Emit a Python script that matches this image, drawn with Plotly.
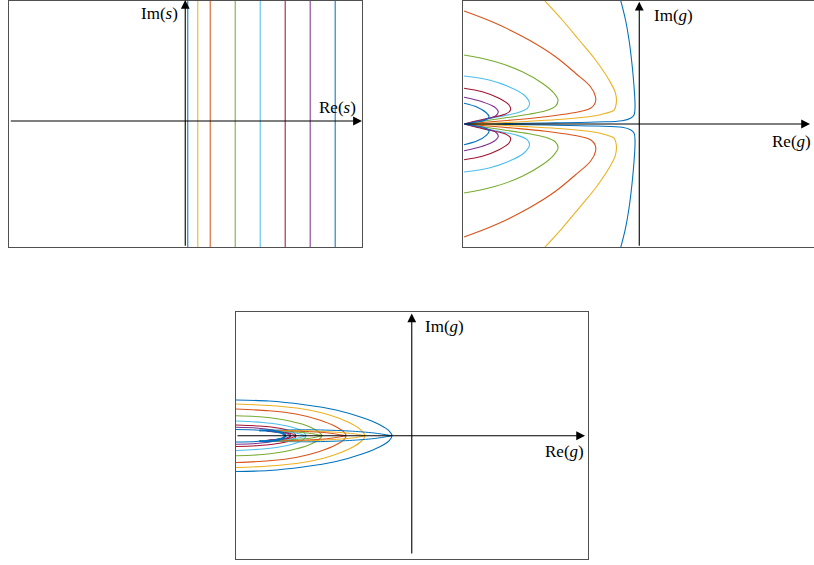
import plotly.graph_objects as go

# s-plane: real parts of the vertical lines
sigma = [0.1, 0.5, 1, 2, 3, 4, 5, 6]
colors = ["#0072BD", "#EDB120", "#D95319", "#77AC30", "#4DBEEE", "#A2142F", "#7E2F8E", "#0072BD"]

# g-plane (top right): upper half of each image curve
tr_x = [
    [-0.75, -0.55, -0.41, -0.28, -0.21, -0.17, -0.21, -0.35, -0.68, -1.75, -3.75, -5.75, -7.0],
    [-3.81, -3.08, -2.41, -1.75, -1.21, -0.95, -0.92, -1.01, -1.35, -1.75, -3.08, -4.41, -5.75, -7.0],
    [-7.01, -5.75, -4.41, -3.35, -2.55, -1.95, -1.75, -1.77, -1.95, -2.41, -3.75, -5.08, -6.41, -7.0],
    [-7.01, -5.75, -4.68, -3.88, -3.41, -3.25, -3.35, -3.75, -4.41, -5.75, -7.0],
    [-7.01, -6.01, -5.21, -4.61, -4.39, -4.48, -4.95, -5.75, -6.55, -7.0],
    [-7.01, -6.28, -5.61, -5.21, -5.15, -5.35, -5.88, -6.55, -7.0],
    [-7.01, -6.28, -5.81, -5.64, -5.75, -6.15, -6.68, -7.0],
    [-7.01, -6.48, -6.12, -6.01, -6.15, -6.55, -7.0],
]
tr_y = [
    [4.96, 4.16, 3.36, 2.29, 1.49, 0.69, 0.36, 0.23, 0.13, 0.08, 0.04, 0.013, 0.0],
    [4.96, 4.16, 3.36, 2.56, 1.76, 1.23, 0.83, 0.56, 0.43, 0.33, 0.19, 0.11, 0.04, 0.0],
    [4.52, 4.03, 3.36, 2.69, 2.03, 1.49, 1.09, 0.83, 0.63, 0.49, 0.29, 0.16, 0.05, 0.0],
    [2.76, 2.49, 2.09, 1.63, 1.23, 0.96, 0.72, 0.53, 0.39, 0.19, 0.0],
    [1.92, 1.76, 1.49, 1.16, 0.83, 0.63, 0.43, 0.27, 0.09, 0.0],
    [1.43, 1.29, 1.03, 0.76, 0.56, 0.40, 0.27, 0.12, 0.0],
    [1.07, 0.89, 0.69, 0.49, 0.32, 0.19, 0.07, 0.0],
    [0.83, 0.67, 0.45, 0.29, 0.16, 0.07, 0.0],
]

# g-plane (bottom): upper half of each outer loop, left edge -> vertex on the real axis
bt_x = [
    [-7.03, -5.71, -4.36, -3.03, -1.96, -1.30, -0.90, -0.79],
    [-7.03, -5.71, -4.36, -3.29, -2.49, -2.03, -1.87],
    [-7.03, -5.71, -4.63, -3.69, -3.03, -2.69, -2.63],
    [-7.03, -5.96, -4.89, -4.09, -3.69, -3.59],
    [-7.03, -5.96, -5.03, -4.43, -4.23],
    [-7.03, -6.09, -5.29, -4.76, -4.63],
    [-7.03, -6.23, -5.43, -4.96, -4.83],
    [-7.03, -6.23, -5.56, -5.16, -5.03],
]
bt_y = [
    [1.43, 1.39, 1.25, 1.03, 0.72, 0.45, 0.19, 0.0],
    [1.27, 1.21, 1.07, 0.83, 0.52, 0.23, 0.0],
    [1.07, 1.0, 0.87, 0.63, 0.36, 0.13, 0.0],
    [0.8, 0.75, 0.59, 0.36, 0.13, 0.0],
    [0.59, 0.53, 0.4, 0.21, 0.0],
    [0.43, 0.39, 0.3, 0.16, 0.0],
    [0.34, 0.31, 0.21, 0.11, 0.0],
    [0.25, 0.23, 0.16, 0.08, 0.0],
]
# inner branch of each bottom loop: from the curl near (-5.6, 0) out to its vertex
bt_in_x = [
    [-5.6, -4.0, -2.5, -1.5, -0.79],
    [-5.6, -4.2, -3.0, -2.3, -1.87],
    [-5.6, -4.5, -3.4, -2.63],
    [-5.6, -4.7, -4.0, -3.59],
    [-5.6, -5.0, -4.5, -4.23],
    [-5.7, -5.2, -4.8, -4.63],
    [-5.8, -5.3, -5.0, -4.83],
    [-6.1, -5.6, -5.2, -5.03],
]
bt_in_y = [
    [0.22, 0.24, 0.19, 0.11, 0.0],
    [0.21, 0.2, 0.14, 0.08, 0.0],
    [0.2, 0.18, 0.12, 0.0],
    [0.18, 0.15, 0.09, 0.0],
    [0.17, 0.14, 0.08, 0.0],
    [0.17, 0.14, 0.08, 0.0],
    [0.18, 0.15, 0.08, 0.0],
    [0.21, 0.21, 0.12, 0.0],
]

W, H = 814, 565
fig = go.Figure()


def halves(xs, ys):
    # upper half and its complex conjugate
    return [(xs, ys), (xs, [-v for v in ys])]


# top left: vertical lines
for s, c in zip(sigma, colors):
    fig.add_trace(go.Scatter(x=[s, s], y=[-5.05, 4.8], mode="lines", line=dict(color=c, width=1.2),
                             opacity=0.85, xaxis="x", yaxis="y", showlegend=False, hoverinfo="skip"))

for xs, ys, c in zip(tr_x, tr_y, colors):
    for hx, hy in halves(xs, ys):
        fig.add_trace(go.Scatter(x=hx, y=hy, mode="lines", line=dict(color=c, width=1.1, shape="spline", smoothing=1.0),
                                 xaxis="x2", yaxis="y2", showlegend=False, hoverinfo="skip"))

for xs, ys, c in zip(bt_x, bt_y, colors):
    fx = xs + xs[::-1][1:]
    fy = ys + [-v for v in ys[::-1]][1:]
    fig.add_trace(go.Scatter(x=fx, y=fy, mode="lines", line=dict(color=c, width=1.1, shape="spline", smoothing=0.8),
                             xaxis="x3", yaxis="y3", showlegend=False, hoverinfo="skip"))

for i, (xs, ys, c) in enumerate(zip(bt_in_x, bt_in_y, colors)):
    wd = 2.0 if i == len(colors) - 1 else 1.0
    for hx, hy in halves(xs, ys):
        fig.add_trace(go.Scatter(x=hx, y=hy, mode="lines", line=dict(color=c, width=wd, shape="spline", smoothing=0.8),
                                 xaxis="x3", yaxis="y3", showlegend=False, hoverinfo="skip"))


def px(v):
    return v / W


def py(v):
    return 1 - v / H


frame = dict(showgrid=False, zeroline=False, showticklabels=False, ticks="",
             showline=True, linecolor="#505050", linewidth=1, mirror=True, fixedrange=True)

fig.update_layout(
    width=W, height=H, autosize=False,
    margin=dict(l=0, r=0, t=0, b=0),
    paper_bgcolor="white", plot_bgcolor="white",
    xaxis=dict(frame, domain=[px(9.3), px(361.7)], range=[-7.04, 7.06], anchor="y"),
    yaxis=dict(frame, domain=[py(247.3), py(1)], range=[-5.05, 4.8], anchor="x"),
    xaxis2=dict(frame, domain=[px(463.3), 1.0], range=[-7.04, 6.99], anchor="y2"),
    yaxis2=dict(frame, domain=[py(247.3), py(1)], range=[-4.93, 4.92], anchor="x2", mirror=False),
    xaxis3=dict(frame, domain=[px(236), px(588.3)], range=[-7.03, 7.06], anchor="y3"),
    yaxis3=dict(frame, domain=[py(559), py(312.3)], range=[-4.93, 4.94], anchor="x3"),
)

# axis arrows through the origin
arrows = [
    ("x", "y", 0, -5.05, 0, 4.84),
    ("x", "y", -7.04, 0, 7.07, 0),
    ("x2", "y2", 0, -4.93, 0, 4.89),
    ("x2", "y2", -7.04, 0, 6.83, 0),
    ("x3", "y3", 0, -4.77, 0, 4.89),
    ("x3", "y3", -7.03, 0, 6.93, 0),
]
for xr, yr, x0, y0, x1, y1 in arrows:
    fig.add_annotation(x=x1, y=y1, ax=x0, ay=y0, xref=xr, yref=yr, axref=xr, ayref=yr,
                       showarrow=True, arrowhead=2, arrowsize=1.6, arrowwidth=1.1, arrowcolor="black", text="")

labels = [
    ("Im(<i>s</i>)", 180, 13.3, "right"),
    ("Re(<i>s</i>)", 337, 108, "center"),
    ("Im(<i>g</i>)", 651.7, 15, "left"),
    ("Re(<i>g</i>)", 813, 141.7, "right"),
    ("Im(<i>g</i>)", 422.7, 326.7, "left"),
    ("Re(<i>g</i>)", 585.5, 451.7, "right"),
]
for t, xx, yy, anc in labels:
    fig.add_annotation(x=px(xx), y=py(yy), xref="paper", yref="paper", text=t, showarrow=False,
                       xanchor=anc, yanchor="middle", font=dict(family="Liberation Serif", size=17, color="black"))

fig.write_html("out.html", config={"displayModeBar": False}, post_script="document.body.style.margin='0';")
